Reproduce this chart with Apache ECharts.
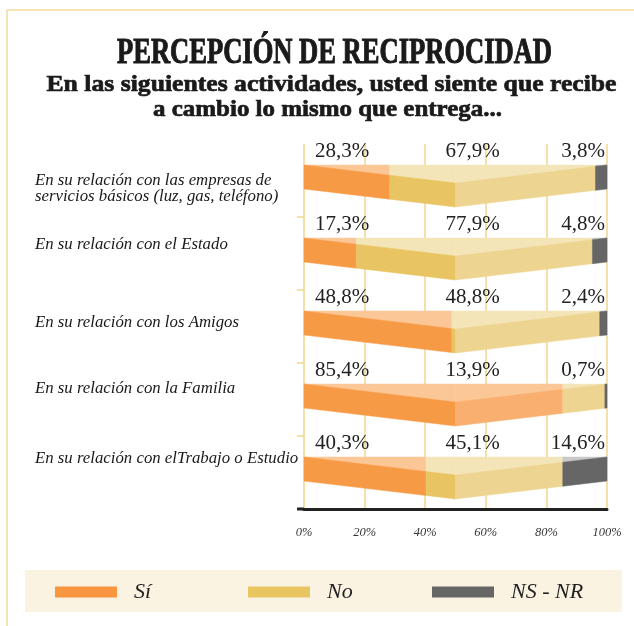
<!DOCTYPE html>
<html lang="es">
<head>
<meta charset="utf-8">
<title>Percepción de reciprocidad</title>
<script src="https://cdn.jsdelivr.net/npm/echarts@6/dist/echarts.min.js"></script>
<style>
  html, body { margin: 0; padding: 0; background: #ffffff; }
  #chart { width: 634px; height: 626px; }
</style>
</head>
<body>
<div id="chart"></div>
<script>
// ---- Data -------------------------------------------------------------
const categories = [
  'En su relación con las empresas de\nservicios básicos (luz, gas, teléfono)',
  'En su relación con el Estado',
  'En su relación con los Amigos',
  'En su relación con la Familia',
  'En su relación con elTrabajo o Estudio'
];
const seriesNames = ['Sí', 'No', 'NS - NR'];
const si   = [28.3, 17.3, 48.8, 85.4, 40.3];
const no   = [67.9, 77.9, 48.8, 13.9, 45.1];
const nsnr = [3.8, 4.8, 2.4, 0.7, 14.6];
const xTicks = [0, 20, 40, 60, 80, 100];

const titleText = 'PERCEPCIÓN DE RECIPROCIDAD';
const subtitleLines = [
  'En las siguientes actividades, usted siente que recibe',
  'a cambio lo mismo que entrega...'
];

// ---- Styling ----------------------------------------------------------
const SERIF = '"Liberation Serif", "DejaVu Serif", serif';
const GOLD = '#F2D68C';
const shades = [
  { front: '#F79A46', frontRight: '#F9AF6F', back: '#FCC796', key: '#F7963E' },
  { front: '#E8C462', frontRight: '#EDD490', back: '#F3E5B8', key: '#E8C662' },
  { front: '#666666', frontRight: '#666666', back: '#C8C8C8', key: '#666666' }
];
const RIBBON_T = 24;      // thickness of the folded band (px)
const RIBBON_DIP = 18;    // how far the fold dips at the middle (px)
const RIBBON_LIFT = 15.5; // band top above category centre (px)
const LABEL_LIFT = 13.5;  // value labels above band top (px)
const labelNudge = [8, -9, -4, -11, -14]; // vertical nudge of category texts

// cumulative start/end for each response, per category
const valueSets = [si, no, nsnr];
function segmentData(k) {
  return categories.map((c, i) => {
    let start = 0;
    for (let j = 0; j < k; j++) start += valueSets[j][i];
    return [i, start, start + valueSets[k][i], valueSets[k][i]];
  });
}

function fmt(v) { return v.toFixed(1).replace('.', ',') + '%'; }

function makeRenderer(k) {
  const sh = shades[k];
  return function (params, api) {
    const cat = api.value(0);
    const a = api.value(1), b = api.value(2), v = api.value(3);
    const p0 = api.coord([0, cat]);
    const x0 = p0[0], cy = p0[1];
    const x1 = api.coord([100, cat])[0];
    const xm = (x0 + x1) / 2;
    const half = xm - x0;
    const top = cy - RIBBON_LIFT;
    const fold = x => top + RIBBON_DIP * (1 - Math.abs(x - xm) / half);
    const children = [];

    const pieces = [];
    if (a < 50) pieces.push([a, Math.min(b, 50), sh.front]);
    if (b > 50) pieces.push([Math.max(a, 50), b, sh.frontRight]);
    pieces.forEach(([p, q, col]) => {
      const xa = api.coord([p, cat])[0], xb = api.coord([q, cat])[0];
      if (xb - xa <= 0) return;
      children.push({
        type: 'polygon',
        shape: { points: [[xa, top], [xb, top], [xb, fold(xb)], [xa, fold(xa)]] },
        style: { fill: sh.back, stroke: sh.back, lineWidth: 0.5 }
      });
      children.push({
        type: 'polygon',
        shape: { points: [[xa, fold(xa)], [xb, fold(xb)], [xb, fold(xb) + RIBBON_T], [xa, fold(xa) + RIBBON_T]] },
        style: { fill: col, stroke: col, lineWidth: 0.5 }
      });
    });

    // value label above the band
    let lx, align;
    if (k === 0) { lx = x0 + 11; align = 'left'; }
    else if (k === 1) { lx = xm + 17; align = 'center'; }
    else { lx = x1 - 2; align = 'right'; }
    children.push({
      type: 'text',
      x: lx, y: top - LABEL_LIFT,
      style: {
        text: fmt(v), font: '21px ' + SERIF, fill: '#222222',
        align: align, verticalAlign: 'middle'
      }
    });

    // short separator ticks between categories; the last one extends the baseline
    if (k === 0) {
      const band = api.size([0, 1])[1];
      if (cat > 0) {
        const yb = cy - band / 2;
        children.push({
          type: 'line',
          shape: { x1: x0 - 7, y1: yb, x2: x0, y2: yb },
          style: { stroke: GOLD, lineWidth: 1.5 }
        });
      }
      if (cat === categories.length - 1) {
        const ye = cy + band / 2;
        children.push({
          type: 'line',
          shape: { x1: x0 - 7, y1: ye, x2: x0, y2: ye },
          style: { stroke: '#222222', lineWidth: 3 }
        });
      }
    }
    return { type: 'group', children: children };
  };
}

// ---- Title fitting ----------------------------------------------------
const measureCtx = document.createElement('canvas').getContext('2d');
function fitScale(text, font, width) {
  measureCtx.font = font;
  return width / measureCtx.measureText(text).width;
}
const titleFont = 'bold 35px ' + SERIF;
const subFont = 'bold 24px ' + SERIF;

const rich = {};
labelNudge.forEach((n, i) => {
  rich['r' + i] = {
    fontStyle: 'italic', fontSize: 16.8, fontFamily: SERIF,
    color: '#1a1a1a', lineHeight: 15.5,
    padding: n >= 0 ? [2 * n, 0, 0, 0] : [0, 0, -2 * n, 0]
  };
});

const chart = echarts.init(document.getElementById('chart'), null, { renderer: 'canvas' });

const option = {
  backgroundColor: '#ffffff',
  animation: false,
  grid: { left: 304, right: 27, top: 144, bottom: 117, containLabel: false },
  xAxis: {
    type: 'value', min: 0, max: 100, interval: 20,
    axisLine: { show: true, lineStyle: { color: '#222222', width: 3 } },
    axisTick: { show: false },
    splitLine: { show: true, lineStyle: { color: GOLD, width: 1.5 } },
    axisLabel: {
      margin: 17,
      fontStyle: 'italic', fontSize: 12.5, fontFamily: SERIF, color: '#333333',
      formatter: v => (xTicks.indexOf(v) >= 0 ? v + '%' : '')
    }
  },
  yAxis: {
    type: 'category', inverse: true, data: categories,
    axisLine: { show: false }, axisTick: { show: false },
    splitLine: { show: false },
    axisLabel: {
      align: 'left', margin: 269,
      formatter: (val, i) => val.split('\n').map(s => '{r' + i + '|' + s + '}').join('\n'),
      rich: rich
    }
  },
  legend: seriesNames.map((name, k) => ({
    data: [name], selectedMode: false,
    left: [50, 243, 427][k], top: 576,
    icon: 'rect', itemWidth: 62, itemHeight: 11,
    textStyle: {
      fontStyle: 'italic', fontSize: 22, fontFamily: SERIF,
      color: '#222222', padding: [0, 0, 0, 12]
    }
  })),
  series: seriesNames.map((name, k) => ({
    name: name, type: 'custom',
    itemStyle: { color: shades[k].key },
    encode: { x: [1, 2], y: 0 },
    renderItem: makeRenderer(k),
    data: segmentData(k)
  })),
  graphic: [
    { type: 'line', shape: { x1: 7, y1: 10, x2: 634, y2: 10 }, style: { stroke: '#F3DA9E', lineWidth: 1.5 } },
    { type: 'line', shape: { x1: 7, y1: 10, x2: 7, y2: 626 }, style: { stroke: '#F3DA9E', lineWidth: 1.5 } },
    { type: 'text', x: 10, y: -9, style: { text: 'Gráfico 38', font: 'bold 11px ' + SERIF, fill: '#333' } },
    { type: 'rect', z: 1, shape: { x: 25, y: 570, width: 597, height: 42 }, style: { fill: '#FAF3E2' } },
    {
      type: 'text', x: 334.5, y: 53.5, scaleX: fitScale(titleText, titleFont, 435),
      style: {
        text: titleText, font: titleFont, fill: '#1a1a1a', stroke: '#1a1a1a', lineWidth: 1,
        align: 'center', verticalAlign: 'middle'
      }
    },
    {
      type: 'text', x: 331.5, y: 85, scaleX: fitScale(subtitleLines[0], subFont, 570),
      style: {
        text: subtitleLines[0], font: subFont, fill: '#1a1a1a', stroke: '#1a1a1a', lineWidth: 0.7,
        align: 'center', verticalAlign: 'middle'
      }
    },
    {
      type: 'text', x: 327.5, y: 110, scaleX: fitScale(subtitleLines[1], subFont, 349),
      style: {
        text: subtitleLines[1], font: subFont, fill: '#1a1a1a', stroke: '#1a1a1a', lineWidth: 0.7,
        align: 'center', verticalAlign: 'middle'
      }
    }
  ]
};
chart.setOption(option);
</script>
</body>
</html>
